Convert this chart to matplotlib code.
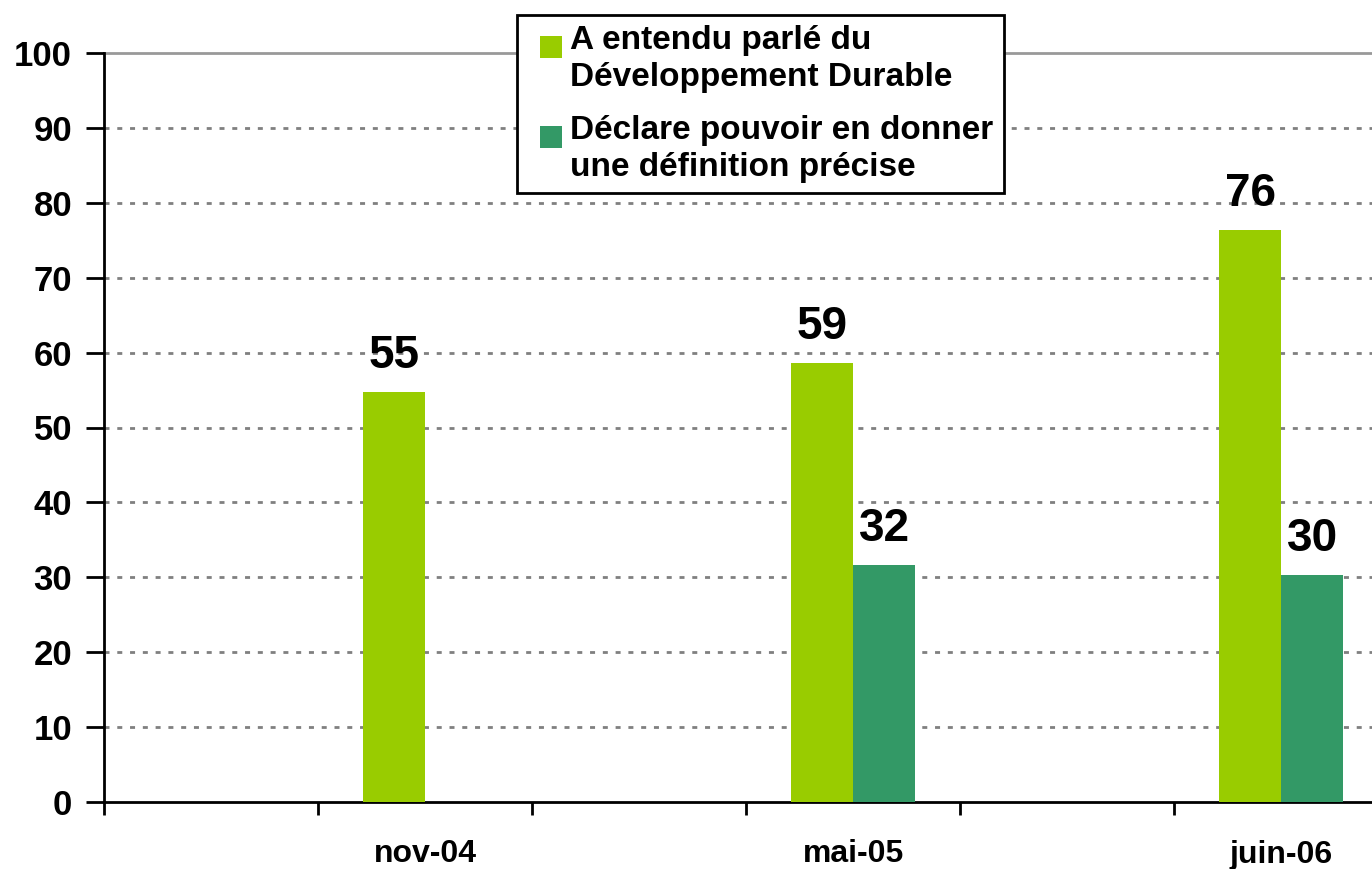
import numpy as np
import matplotlib
matplotlib.use("Agg")
import matplotlib.pyplot as plt
from matplotlib.patches import Rectangle
from matplotlib.container import BarContainer
from matplotlib.legend_handler import HandlerPatch

plt.rcParams['font.family'] = ['Liberation Sans', 'DejaVu Sans']
plt.rcParams['font.weight'] = 'bold'

# data (blank slots between the survey dates, as in the original sheet)
categories = ['', 'nov-04', '', 'mai-05', '', 'juin-06']
entendu    = [np.nan, 54.8, np.nan, 58.6, np.nan, 76.4]
definition = [np.nan, np.nan, np.nan, 31.7, np.nan, 30.3]
series_names = ['A entendu parlé du\nDéveloppement Durable',
                'Déclare pouvoir en donner\nune définition précise']
yticks = list(range(0, 101, 10))

light = '#99CC00'
dark = '#339966'


# legend square sitting on the first line of a two-line label
def top_square(legend, orig_handle, xdescent, ydescent, width, height, fontsize):
    s = 0.66 * fontsize
    return Rectangle((-xdescent + width - s, -ydescent + height - s - 1), s, s)


def copy_style(handle, orig):
    handle.update_from(orig.patches[0])


fig = plt.figure(figsize=(13.72, 8.69), dpi=100)
ax = fig.add_axes([104/1372, 67/869, 1 - 104/1372, (816-67)/869])

x = np.arange(len(categories))
w = 0.29
b1 = ax.bar(x - w/2, entendu, w, color=light, label=series_names[0], zorder=3)
b2 = ax.bar(x + w/2, definition, w, color=dark, label=series_names[1], zorder=3)

# value labels
for bars, vals in ((b1, entendu), (b2, definition)):
    for rect, v in zip(bars, vals):
        if np.isnan(v):
            continue
        ax.annotate(f"{v:.0f}", (rect.get_x() + rect.get_width()/2, v),
                    xytext=(0, 10), textcoords='offset points',
                    ha='center', va='bottom', fontsize=33, fontweight='bold',
                    zorder=5)

ax.set_yticks(yticks)
ax.set_yticklabels([str(t) for t in yticks])

# dashed grid, solid line at the top
for t in yticks[1:-1]:
    ax.axhline(t, color='#808080', lw=2.0, ls=(0, (1.8, 2.8)), zorder=1)
ax.axhline(100, color='#999999', lw=2, zorder=1, clip_on=False)

ax.set_xticks(x)
ax.set_xticklabels(categories)
ax.set_xticks(np.arange(-0.5, 6, 1), minor=True)
ax.set_ylim(0, 100)
ax.set_xlim(-0.5, 5.425)
ax.tick_params(axis='x', which='major', length=0, pad=27, labelsize=23)
ax.tick_params(axis='x', which='minor', length=9, width=2, direction='out')
ax.tick_params(axis='y', length=13, width=2, pad=10, labelsize=25)

for s in ('top', 'right'):
    ax.spines[s].set_visible(False)
for s in ('left', 'bottom'):
    ax.spines[s].set_linewidth(2)
    ax.spines[s].set_color('black')

leg = fig.legend(loc='upper left', bbox_to_anchor=(517/1372, 1 - 15/869),
                 borderaxespad=0,
                 fontsize=24, frameon=True, fancybox=False, framealpha=1,
                 edgecolor='black', handlelength=1.05, handleheight=2.0,
                 handletextpad=0.25, borderpad=0.3, labelspacing=0.65,
                 handler_map={BarContainer: HandlerPatch(patch_func=top_square,
                                                          update_func=copy_style)})
leg.get_frame().set_linewidth(2)
for t in leg.get_texts():
    t.set_fontweight('bold')
    t.set_linespacing(1.25)

plt.savefig("out.png", dpi=100)
